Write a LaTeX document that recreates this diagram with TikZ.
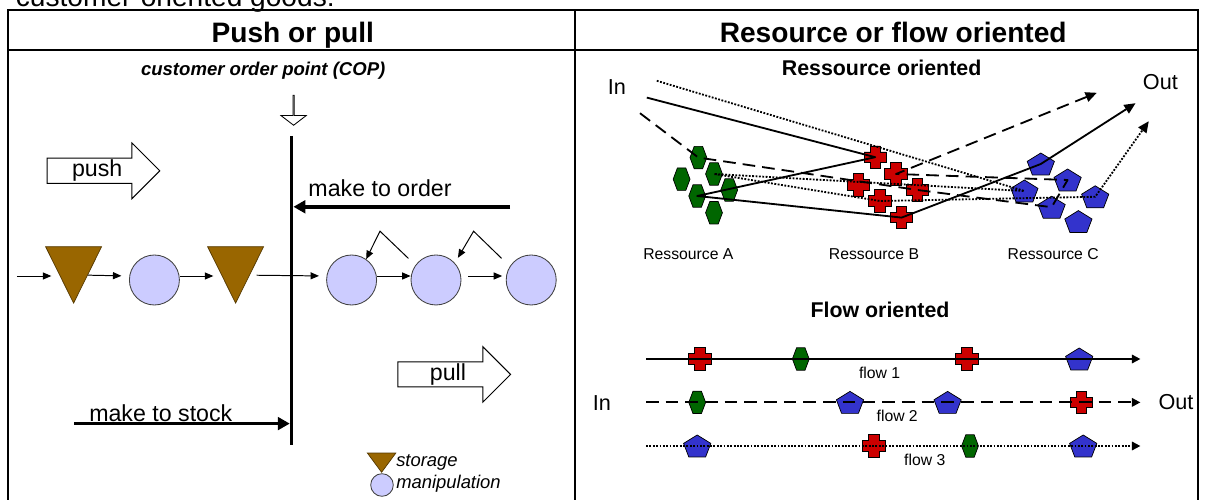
\documentclass[tikz,border=0pt]{standalone}
\usepackage{fontspec}
\setmainfont{Liberation Sans}
\usepackage{xcolor}
\usepackage{tikz}
\usetikzlibrary{arrows.meta,shapes.geometric,shapes.arrows}
\definecolor{storbrown}{RGB}{153,102,0}
\definecolor{maniplav}{RGB}{204,204,255}
\definecolor{hexgreen}{RGB}{0,102,0}
\definecolor{crossred}{RGB}{204,0,0}
\definecolor{pentblue}{RGB}{51,51,204}
\def\hexpath{(-0.21,0) -- (-0.105,0.28) -- (0.105,0.28) -- (0.21,0) -- (0.105,-0.28) -- (-0.105,-0.28) -- cycle}
\def\pluspath{(-0.13,-0.28) -- (0.13,-0.28) -- (0.13,-0.13) -- (0.28,-0.13) -- (0.28,0.13) -- (0.13,0.13)
  -- (0.13,0.28) -- (-0.13,0.28) -- (-0.13,0.13) -- (-0.28,0.13) -- (-0.28,-0.13) -- (-0.13,-0.13) -- cycle}
\def\pentpath{(0,0.275) -- (0.34,0.065) -- (0.21,-0.275) -- (-0.21,-0.275) -- (-0.34,0.065) -- cycle}
\tikzset{
  tabline/.style={line width=1.5pt},
  copline/.style={line width=2.6pt},
  thk/.style={line width=2.6pt,shorten >=1.3pt,-{Triangle[length=8.5pt,width=9pt]}},
  flw/.style={line width=0.7pt,-{Triangle[length=6pt,width=5pt]}},
  manip/.style={circle,draw=black!75,line width=0.6pt,fill=maniplav,minimum size=1.25cm,inner sep=0},
  stor/.style={isosceles triangle,isosceles triangle stretches,shape border rotate=270,draw=storbrown!55!black,line width=0.5pt,fill=storbrown,minimum width=1.4cm,minimum height=1.41cm,inner sep=0},
  fatarrow/.style={single arrow,draw,line width=0.7pt,minimum height=2.815cm,minimum width=1.39cm,single arrow head extend=0.343cm,inner sep=0,font=\fontsize{16.5}{20}\selectfont},
  coparrow/.style={single arrow,draw,line width=0.6pt,rotate=-90,minimum height=0.75cm,minimum width=0.63cm,single arrow head extend=0.195cm,single arrow tip angle=105,inner sep=0},
  hdr/.style={anchor=base,inner sep=0,font=\fontsize{20}{24}\selectfont\bfseries},
  sub/.style={anchor=base,inner sep=0,font=\fontsize{15.2}{18}\selectfont\bfseries},
  lbl/.style={anchor=base,inner sep=0,font=\fontsize{16.5}{20}\selectfont},
  io/.style={anchor=base,inner sep=0,font=\fontsize{15.4}{18}\selectfont},
  small/.style={anchor=base,inner sep=0,font=\fontsize{11.2}{13}\selectfont},
  legtxt/.style={anchor=base west,inner sep=0,font=\fontsize{13.1}{16}\selectfont\itshape},
  coplbl/.style={anchor=base,inner sep=0,font=\fontsize{13.2}{16}\selectfont\bfseries\itshape},
  shade/.style={fill=black!40,shift={(path picture bounding box.center)},xshift=0.035cm,yshift=-0.035cm},
  body/.style={line width=0.5pt,shift={(path picture bounding box.center)}},
  hexa/.style={minimum width=0.52cm,minimum height=0.66cm,inner sep=0,
    path picture={\fill[shade] \hexpath; \draw[body,fill=hexgreen] \hexpath;}},
  redplus/.style={minimum size=0.68cm,inner sep=0,
    path picture={\fill[shade] \pluspath; \draw[body,fill=crossred] \pluspath;}},
  penta/.style={minimum width=0.78cm,minimum height=0.66cm,inner sep=0,
    path picture={\fill[shade] \pentpath; \draw[body,fill=pentblue] \pentpath;}},
  solidln/.style={line width=1.3pt,line join=round},
  dashln/.style={solidln,dash pattern=on 9pt off 5pt},
  dotln/.style={solidln,dash pattern=on 1.3pt off 1.1pt},
  outtip/.style={-{Triangle[length=8pt,width=7pt]}},
  flowtip/.style={-{Triangle[length=6pt,width=6pt]}}
}
\newcommand{\hexnode}[2]{\node[hexa] (#1) at (#2) {};}
\newcommand{\plusnode}[2]{\node[redplus] (#1) at (#2) {};}
\newcommand{\pentnode}[2]{\node[penta] (#1) at (#2) {};}

\begin{document}
\begin{tikzpicture}
\useasboundingbox (0,0) rectangle (30.15,12.5);
\node[anchor=base west,inner sep=0,font=\fontsize{20}{24}\selectfont] (goods) at (0.39,12.33) {customer-oriented goods:};
\draw[tabline] (0.19,-0.1) rectangle (29.95,12.25);
\draw[tabline] (0.19,11.24) -- (29.95,11.24);
\draw[tabline] (14.375,12.25) -- (14.375,-0.1);
\node[hdr] (hpush) at (7.32,11.44) {Push or pull};
\node[hdr] (hres) at (22.33,11.43) {Resource or flow oriented};

\node[coplbl] (copl) at (6.58,10.6) {customer order point (COP)};
\node[coparrow] (copa) at (7.34,9.75) {};
\coordinate (copT) at (7.29,9.1); \coordinate (copB) at (7.29,1.375);
\draw[copline] (copT) -- (copB);
\node[fatarrow] (push) at (2.43,8.23) {push};
\node[fatarrow] (pull) at (11.2,3.14) {pull};
\coordinate (mto) at (12.75,7.33); \draw[thk] (mto) -- (mto -| copT);
\node[lbl] (mtol) at (9.5,7.58) {make to order};
\coordinate (mts) at (1.85,1.91); \draw[thk] (mts) -- (mts -| copT);
\node[lbl] (mtsl) at (4.02,1.96) {make to stock};

\coordinate (f0) at (0.42,5.6);
\node[stor,anchor=apex] (s1) at (1.84,4.9) {};
\node[manip] (m1) at (3.86,5.5) {};
\node[stor,anchor=apex] (s2) at (5.89,4.9) {};
\node[manip] (m2) at (8.79,5.5) {};
\node[manip] (m3) at (10.9,5.5) {};
\node[manip] (m4) at (13.28,5.5) {};
\draw[flw,shorten >=0.2cm] (f0) -- (f0 -| s1.right side);
\draw[flw,shorten >=0.19cm] (s1.left side) -- (f0 -| m1.west);
\draw[flw,shorten >=0.2cm] (m1.east |- f0) -- (f0 -| s2.right side);
\draw[flw,shorten <=0.17cm,shorten >=0.18cm] (s2.left side) -- (f0 -| m2.west);
\draw[flw] (m2.east |- f0) -- (f0 -| m3.west);
\draw[flw,shorten <=0.17cm,shorten >=0.09cm] (m3.east |- f0) -- (f0 -| m4.west);
\coordinate (k1) at (9.5,6.72); \coordinate (t1) at (10.21,6.04);
\draw[flw] (t1) -- (k1) -- (m2.55);
\coordinate (k2) at (11.84,6.72); \coordinate (t2) at (12.54,6.04);
\draw[flw,shorten >=0.15cm] (t2) -- (k2) -- (m3.42);

\node[stor,anchor=apex,minimum width=0.71cm,minimum height=0.48cm] (lgs) at (9.54,0.67) {};
\node[manip,minimum size=0.565cm] (lgm) at (9.55,0.375) {};
\node[legtxt] (lgst) at (9.9,0.83) {storage};
\node[legtxt] (lgmt) at (9.9,0.29) {manipulation};

\node[sub] (resh) at (22.04,10.62) {Ressource oriented};
\node[io] (inr) at (15.42,10.125) {In};
\node[io] (outr) at (29.01,10.25) {Out};
\hexnode{h1}{17.46,8.56} \hexnode{h2}{17.04,8.02} \hexnode{h3}{17.85,8.15}
\hexnode{h4}{17.43,7.6} \hexnode{h5}{18.23,7.75} \hexnode{h6}{17.85,7.18}
\plusnode{c1}{21.88,8.57} \plusnode{c2}{22.4,8.15} \plusnode{c3}{21.46,7.875}
\plusnode{c4}{22.0,7.475} \plusnode{c5}{22.94,7.75} \plusnode{c6}{22.54,7.06}
\pentnode{p1}{26.02,8.4} \pentnode{p2}{26.69,8.0} \pentnode{p3}{25.61,7.725}
\pentnode{p4}{27.38,7.58} \pentnode{p5}{26.29,7.32} \pentnode{p6}{26.96,6.96}
\coordinate (inS) at (16.17,10.06); \coordinate (inD) at (16.0,9.67); \coordinate (inT) at (16.42,10.48);
\coordinate (outS) at (28.39,9.92); \coordinate (outD) at (27.42,10.18); \coordinate (outT) at (28.72,9.47);
\draw[solidln,outtip] (inS) -- (c1.center) -- (h4.center) -- (c6.center) -- (p1.center) -- (outS);
\draw[dashln,outtip] (inD) -- (h1.center) -- (c5.center) -- (p5.center) -- (p2.center) -- (c2.center) -- (outD);
\draw[dotln,outtip] (inT) -- (p3.center) -- (h3.center) -- (c4.center) -- (p4.center) -- (outT);
\node[small] (ra) at (17.21,6.02) {Ressource A};
\node[small] (rb) at (21.85,6.02) {Ressource B};
\node[small] (rc) at (26.33,6.02) {Ressource C};

\node[sub] (flh) at (22.0,4.55) {Flow oriented};
\node[io] (inf) at (15.05,2.225) {In};
\node[io] (outf) at (29.4,2.25) {Out};
\plusnode{q1}{17.5,3.525} \hexnode{q2}{20.02,3.525} \plusnode{q3}{24.17,3.525} \pentnode{q4}{26.98,3.525}
\hexnode{q5}{17.43,2.44} \pentnode{q6}{21.25,2.44} \pentnode{q7}{23.69,2.44} \plusnode{q8}{27.03,2.44}
\pentnode{q9}{17.43,1.35} \plusnode{q10}{21.85,1.35} \hexnode{q11}{24.25,1.35} \pentnode{q12}{27.08,1.35}
\coordinate (fs1) at (16.15,3.525); \coordinate (fe1) at (28.51,3.525);
\coordinate (fs2) at (16.15,2.44); \coordinate (fe2) at (28.51,2.44);
\coordinate (fs3) at (16.15,1.35); \coordinate (fe3) at (28.51,1.35);
\draw[solidln,flowtip] (fs1) -- (q1.center) -- (q2.center) -- (q3.center) -- (q4.center) -- (fe1);
\draw[dashln,flowtip] (fs2) -- (q5.center) -- (q6.center) -- (q7.center) -- (q8.center) -- (fe2);
\draw[dotln,flowtip] (fs3) -- (q9.center) -- (q10.center) -- (q11.center) -- (q12.center) -- (fe3);
\node[small] (fl1) at (21.99,3.025) {flow 1};
\node[small] (fl2) at (22.43,1.96) {flow 2};
\node[small] (fl3) at (23.12,0.86) {flow 3};
\end{tikzpicture}
\end{document}
